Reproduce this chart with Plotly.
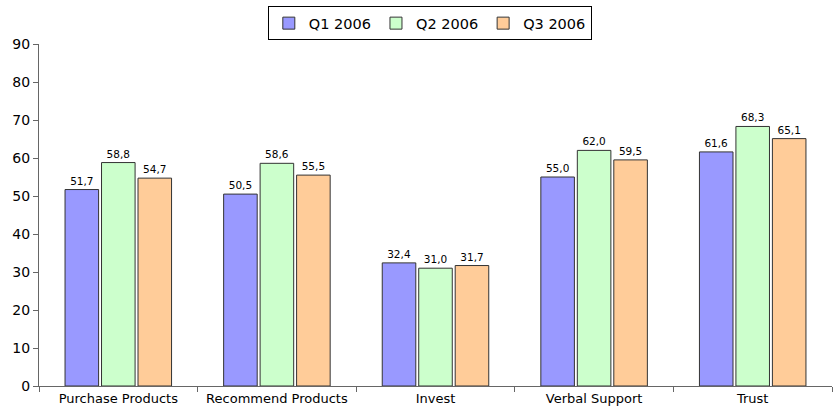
import plotly.graph_objects as go

categories = ["Purchase Products", "Recommend Products", "Invest", "Verbal Support", "Trust"]
series_names = ["Q1 2006", "Q2 2006", "Q3 2006"]
q1_2006 = [51.7, 50.5, 32.4, 55.0, 61.6]
q2_2006 = [58.8, 58.6, 31.0, 62.0, 68.3]
q3_2006 = [54.7, 55.5, 31.7, 59.5, 65.1]
colors = ["#9999FF", "#CCFFCC", "#FFCC99"]

FONT = "Verdana, DejaVu Sans, sans-serif"

fig = go.Figure()
for name, vals, col in zip(series_names, [q1_2006, q2_2006, q3_2006], colors):
    fig.add_trace(go.Bar(
        name=name, x=categories, y=vals,
        marker=dict(color=col, line=dict(color="#333333", width=1)),
        text=[f"{v:.1f}".replace(".", ",") for v in vals],
        textposition="outside", cliponaxis=False,
        textfont=dict(family=FONT, size=10.5, color="#000000"),
    ))

fig.update_layout(
    width=833, height=414,
    margin=dict(l=39, r=1, t=44, b=28, autoexpand=False),
    paper_bgcolor="white", plot_bgcolor="white",
    barmode="group", bargap=0.31, bargroupgap=0.08,
    font=dict(family=FONT, size=13, color="#000000"),
    showlegend=True,
    legend=dict(
        orientation="h", x=0.516, xanchor="center", y=0.985, yanchor="top",
        yref="container", xref="container",
        bordercolor="#000000", borderwidth=1,
        font=dict(family=FONT, size=14.5),
        itemwidth=30, traceorder="normal",
        tracegroupgap=0,
    ),
    xaxis=dict(
        showline=True, linecolor="#666666", linewidth=1,
        ticks="outside", tickson="boundaries", ticklen=5, tickcolor="#666666",
        tickfont=dict(size=13), showgrid=False,
    ),
    yaxis=dict(
        range=[0, 90], dtick=10, showline=True, linecolor="#666666", linewidth=1,
        ticks="outside", ticklen=5, tickcolor="#666666", showgrid=False,
        tickfont=dict(size=14), zeroline=False,
    ),
)

fig.write_html("out.html")
